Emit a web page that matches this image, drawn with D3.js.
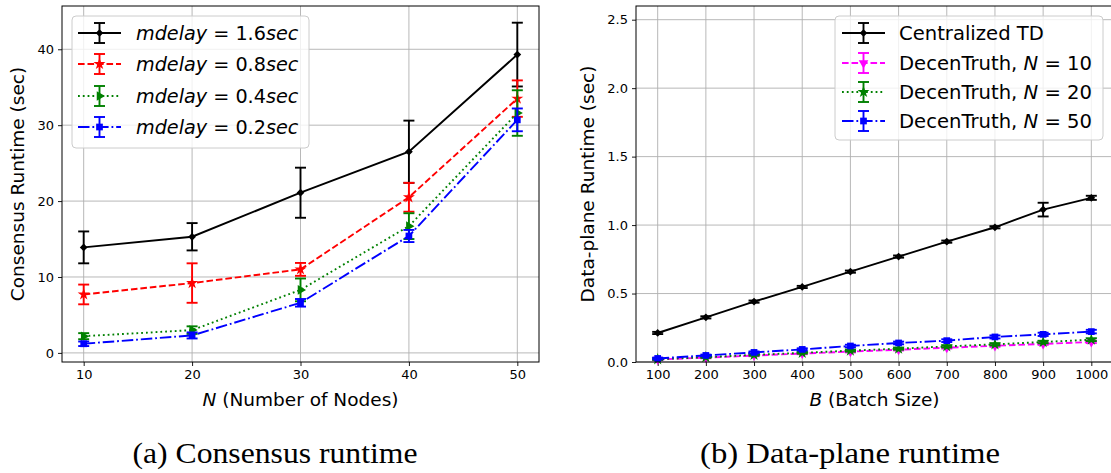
<!DOCTYPE html>
<html>
<head>
<meta charset="utf-8">
<script src="https://cdn.jsdelivr.net/npm/d3@7"></script>
<style>
  body { margin: 0; background: #fff; }
  text { font-family: "DejaVu Sans", sans-serif; }
</style>
</head>
<body>
<div id="chart"></div>
<script>
// left panel: consensus runtime vs number of nodes
const nodes = [10, 20, 30, 40, 50];
const delays = ["1.6", "0.8", "0.4", "0.2"];
const delay16 = [13.9, 15.3, 21.1, 26.5, 39.3];
const delay16Err = [2.1, 1.8, 3.3, 4.1, 4.2];
const delay08 = [7.7, 9.2, 11.0, 20.5, 33.5];
const delay08Err = [1.3, 2.6, 0.85, 1.9, 2.4];
const delay04 = [2.2, 3.0, 8.3, 16.7, 31.6];
const delay04Err = [0.4, 0.5, 1.5, 1.7, 3.0];
const delay02 = [1.2, 2.3, 6.6, 15.4, 30.7];
const delay02Err = [0.3, 0.4, 0.5, 0.8, 1.5];
const leftYTicks = [0, 10, 20, 30, 40];

// right panel: data-plane runtime vs batch size
const batch = [100, 200, 300, 400, 500, 600, 700, 800, 900, 1000];
const central = [0.212, 0.326, 0.441, 0.548, 0.66, 0.77, 0.879, 0.984, 1.113, 1.199];
const centralErr = [0.008, 0.008, 0.008, 0.008, 0.008, 0.008, 0.008, 0.008, 0.05, 0.015];
const decen10 = [0.018, 0.032, 0.047, 0.062, 0.076, 0.09, 0.104, 0.118, 0.132, 0.146];
const decen10Err = [0.005, 0.005, 0.005, 0.005, 0.006, 0.006, 0.006, 0.007, 0.007, 0.008];
const decen20 = [0.02, 0.035, 0.052, 0.067, 0.083, 0.097, 0.114, 0.129, 0.146, 0.163];
const decen20Err = [0.005, 0.005, 0.006, 0.006, 0.007, 0.007, 0.008, 0.008, 0.009, 0.01];
const decen50 = [0.026, 0.048, 0.07, 0.092, 0.117, 0.139, 0.156, 0.183, 0.202, 0.222];
const decen50Err = [0.006, 0.006, 0.007, 0.008, 0.009, 0.01, 0.01, 0.011, 0.012, 0.013];
const rightYTicks = [0, 0.5, 1.0, 1.5, 2.0, 2.5];

const W = 1111, H = 473;
const svg = d3.select("#chart").append("svg")
  .attr("width", W).attr("height", H);

const dashes = { solid: null, dashed: "6.6,2.9", dotted: "1.8,3", dashdot: "11.5,2.9,1.8,2.9" };

function marker(kind, size) {
  if (kind === "D") return { path: d3.symbol(d3.symbolSquare, size)(), rot: 45 };
  if (kind === "s") return { path: d3.symbol(d3.symbolSquare, size)(), rot: 0 };
  if (kind === "*") return { path: d3.symbol(d3.symbolStar, size)(), rot: 0 };
  if (kind === ">") return { path: d3.symbol(d3.symbolTriangle, size)(), rot: 90 };
  if (kind === "v") return { path: d3.symbol(d3.symbolTriangle, size)(), rot: 180 };
}

function panel(cfg) {
  const g = svg.append("g");
  const x = d3.scaleLinear().domain(cfg.xDomain).range([cfg.left, cfg.right]);
  const y = d3.scaleLinear().domain(cfg.yDomain).range([362, 6]);

  // grid
  g.selectAll(".gx").data(cfg.xTicks).join("line")
    .attr("x1", d => x(d)).attr("x2", d => x(d))
    .attr("y1", 6).attr("y2", 362)
    .attr("stroke", "#b0b0b0").attr("stroke-width", 0.9);
  g.selectAll(".gy").data(cfg.yTicks).join("line")
    .attr("x1", cfg.left).attr("x2", cfg.right)
    .attr("y1", d => y(d)).attr("y2", d => y(d))
    .attr("stroke", "#b0b0b0").attr("stroke-width", 0.9);

  // axes
  const ax = g.append("g").attr("transform", "translate(0,362)")
    .call(d3.axisBottom(x).tickValues(cfg.xTicks).tickFormat(d3.format("d")).tickSize(4).tickPadding(4));
  const ay = g.append("g").attr("transform", `translate(${cfg.left},0)`)
    .call(d3.axisLeft(y).tickValues(cfg.yTicks).tickFormat(cfg.yFormat).tickSize(4).tickPadding(4));
  [ax, ay].forEach(a => {
    a.select(".domain").remove();
    a.selectAll("text").attr("font-size", 13).attr("fill", "#000")
      .attr("font-family", "DejaVu Sans");
    a.selectAll("line").attr("stroke", "#000").attr("stroke-width", 0.9);
  });

  // series
  cfg.series.forEach(s => {
    const pts = cfg.xs.map((v, i) => ({ x: v, y: s.values[i], e: s.err[i] }));
    g.append("path").datum(pts)
      .attr("fill", "none").attr("stroke", s.color).attr("stroke-width", 1.9)
      .attr("stroke-dasharray", dashes[s.dash])
      .attr("d", d3.line().x(d => x(d.x)).y(d => y(d.y)));
    const eb = g.append("g").attr("stroke", s.color).attr("stroke-width", 1.9);
    eb.selectAll(".v").data(pts).join("line")
      .attr("x1", d => x(d.x)).attr("x2", d => x(d.x))
      .attr("y1", d => y(d.y - d.e)).attr("y2", d => y(d.y + d.e));
    eb.selectAll(".ct").data(pts).join("line")
      .attr("x1", d => x(d.x) - 5.5).attr("x2", d => x(d.x) + 5.5)
      .attr("y1", d => y(d.y + d.e)).attr("y2", d => y(d.y + d.e));
    eb.selectAll(".cb").data(pts).join("line")
      .attr("x1", d => x(d.x) - 5.5).attr("x2", d => x(d.x) + 5.5)
      .attr("y1", d => y(d.y - d.e)).attr("y2", d => y(d.y - d.e));
    const m = marker(s.marker, s.size);
    g.selectAll(null).data(pts).join("path")
      .attr("d", m.path).attr("fill", s.color)
      .attr("transform", d => `translate(${x(d.x)},${y(d.y)}) rotate(${m.rot})`);
  });

  // frame
  g.append("rect").attr("x", cfg.left).attr("y", 6)
    .attr("width", cfg.right - cfg.left).attr("height", 356)
    .attr("fill", "none").attr("stroke", "#000").attr("stroke-width", 1);

  // legend
  const lg = g.append("g");
  lg.append("rect").attr("x", cfg.legend.x).attr("y", cfg.legend.y)
    .attr("width", cfg.legend.w).attr("height", cfg.legend.h).attr("rx", 4)
    .attr("fill", "rgba(255,255,255,0.8)").attr("stroke", "#cccccc");
  cfg.series.forEach((s, i) => {
    const ry = cfg.legend.rows[i];
    const hx = cfg.legend.hx;
    lg.append("line").attr("x1", hx).attr("x2", hx + 43).attr("y1", ry).attr("y2", ry)
      .attr("stroke", s.color).attr("stroke-width", 1.9).attr("stroke-dasharray", dashes[s.dash]);
    const cx = hx + 21.5;
    const e = lg.append("g").attr("stroke", s.color).attr("stroke-width", 1.9);
    e.append("line").attr("x1", cx).attr("x2", cx).attr("y1", ry - 10).attr("y2", ry + 10);
    e.append("line").attr("x1", cx - 5.5).attr("x2", cx + 5.5).attr("y1", ry - 10).attr("y2", ry - 10);
    e.append("line").attr("x1", cx - 5.5).attr("x2", cx + 5.5).attr("y1", ry + 10).attr("y2", ry + 10);
    const m = marker(s.marker, s.size);
    lg.append("path").attr("d", m.path).attr("fill", s.color)
      .attr("transform", `translate(${cx},${ry}) rotate(${m.rot})`);
    const t = lg.append("text").attr("x", cfg.legend.tx).attr("y", ry + 7)
      .attr("font-size", cfg.legend.fs);
    s.label.forEach(p => t.append("tspan").attr("font-style", p[1] ? "italic" : "normal").text(p[0]));
  });

  // axis labels
  const xl = g.append("text").attr("x", (cfg.left + cfg.right) / 2).attr("y", 406)
    .attr("text-anchor", "middle").attr("font-size", 18.5);
  cfg.xLabel.forEach(p => xl.append("tspan").attr("font-style", p[1] ? "italic" : "normal").text(p[0]));
  g.append("text").attr("transform", `translate(${cfg.yLabelX},184) rotate(-90)`)
    .attr("text-anchor", "middle").attr("font-size", 18.5).text(cfg.yLabel);

  g.append("text").attr("x", cfg.capX).attr("y", 463).attr("text-anchor", "middle")
    .style("font-family", "'Liberation Serif', serif")
    .attr("font-size", 29).attr("textLength", cfg.capLen).attr("lengthAdjust", "spacingAndGlyphs")
    .text(cfg.caption);
}

panel({
  left: 62, right: 539, xDomain: [8, 52], yDomain: [-1.2, 45.7],
  xs: nodes, xTicks: nodes, yTicks: leftYTicks, yFormat: d3.format("d"),
  series: [
    { values: delay16, err: delay16Err, color: "#000000", dash: "solid", marker: "D", size: 30, label: [["mdelay", 1], [" = " + delays[0], 0], ["sec", 1]] },
    { values: delay08, err: delay08Err, color: "#ff0000", dash: "dashed", marker: "*", size: 45, label: [["mdelay", 1], [" = " + delays[1], 0], ["sec", 1]] },
    { values: delay04, err: delay04Err, color: "#008000", dash: "dotted", marker: ">", size: 40, label: [["mdelay", 1], [" = " + delays[2], 0], ["sec", 1]] },
    { values: delay02, err: delay02Err, color: "#0000ff", dash: "dashdot", marker: "s", size: 45, label: [["mdelay", 1], [" = " + delays[3], 0], ["sec", 1]] }
  ],
  legend: { x: 72, y: 16, w: 237, h: 132, rows: [33, 64, 96, 127], hx: 78, tx: 136, fs: 19.2 },
  xLabel: [["N", 1], [" (Number of Nodes)", 0]],
  yLabel: "Consensus Runtime (sec)", yLabelX: 24,
  caption: "(a) Consensus runtime", capX: 275, capLen: 285
});

panel({
  left: 636, right: 1113, xDomain: [55, 1045], yDomain: [0, 2.6],
  xs: batch, xTicks: batch, yTicks: rightYTicks, yFormat: d3.format(".1f"),
  series: [
    { values: central, err: centralErr, color: "#000000", dash: "solid", marker: "D", size: 30, label: [["Centralized TD", 0]] },
    { values: decen10, err: decen10Err, color: "#ff00ff", dash: "dashed", marker: "v", size: 40, label: [["DecenTruth, ", 0], ["N", 1], [" = 10", 0]] },
    { values: decen20, err: decen20Err, color: "#008000", dash: "dotted", marker: "*", size: 45, label: [["DecenTruth, ", 0], ["N", 1], [" = 20", 0]] },
    { values: decen50, err: decen50Err, color: "#0000ff", dash: "dashdot", marker: "s", size: 45, label: [["DecenTruth, ", 0], ["N", 1], [" = 50", 0]] }
  ],
  legend: { x: 835, y: 16, w: 268, h: 124, rows: [33, 63, 92, 121], hx: 842, tx: 899, fs: 19.6 },
  xLabel: [["B", 1], [" (Batch Size)", 0]],
  yLabel: "Data-plane Runtime (sec)", yLabelX: 594,
  caption: "(b) Data-plane runtime", capX: 850, capLen: 300
});
</script>
</body>
</html>
